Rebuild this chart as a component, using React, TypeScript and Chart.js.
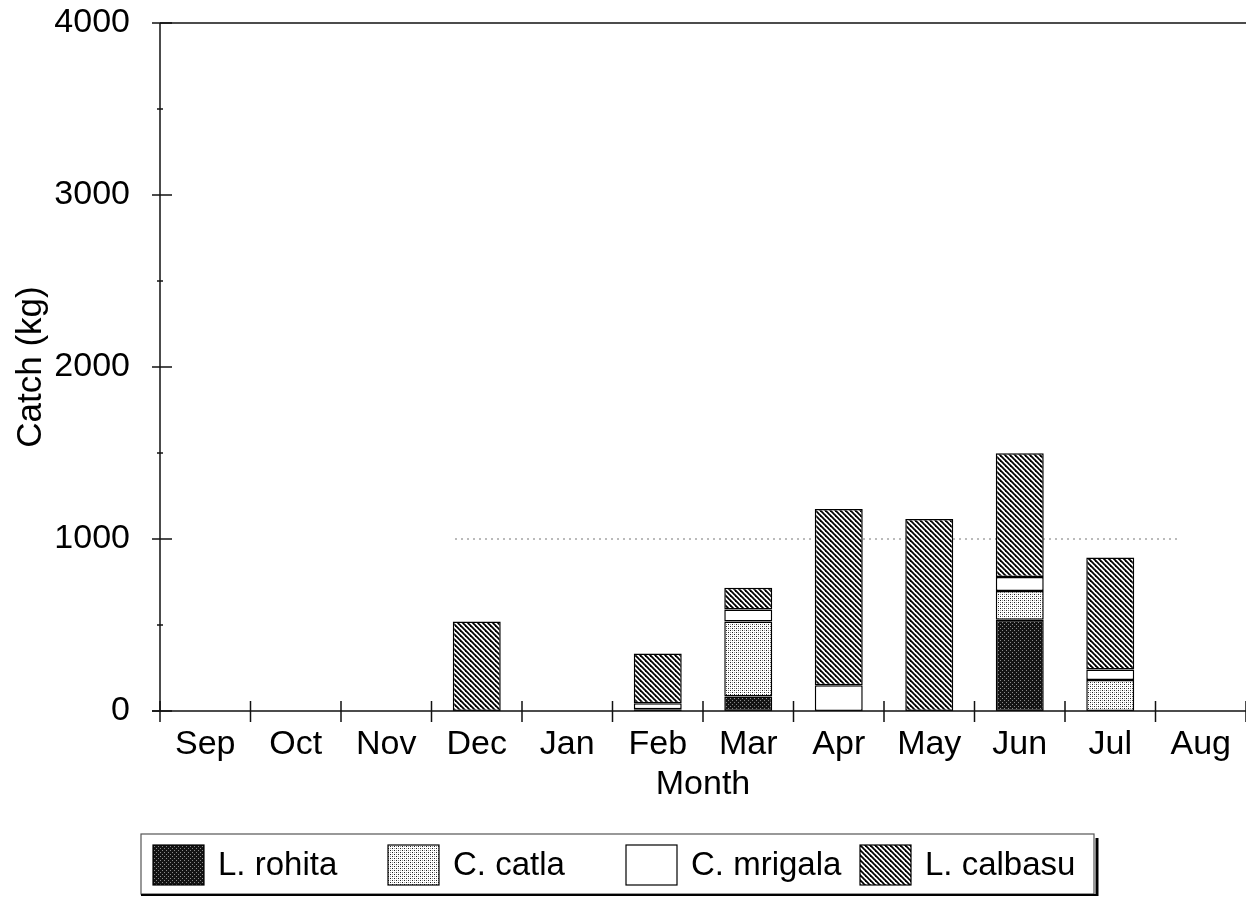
import { useEffect, useRef } from 'react';
import { Chart, registerables } from 'chart.js';

Chart.register(...registerables);

const months = ['Sep', 'Oct', 'Nov', 'Dec', 'Jan', 'Feb', 'Mar', 'Apr', 'May', 'Jun', 'Jul', 'Aug'];
const seriesNames = ['L. rohita', 'C. catla', 'C. mrigala', 'L. calbasu'];
const rohita = [0, 0, 0, 0, 0, 0, 85, 0, 0, 530, 0, 0];
const catla = [0, 0, 0, 0, 0, 10, 435, 0, 0, 167, 180, 0];
const mrigala = [0, 0, 0, 0, 0, 35, 70, 150, 0, 82, 62, 0];
const calbasu = [0, 0, 0, 520, 0, 290, 127, 1025, 1117, 720, 651, 0];
const yMajorTicks = [0, 1000, 2000, 3000, 4000];
const yMinorTicks = [500, 1500, 2500, 3500];

const FONT_FAMILY = '"Liberation Sans", Arial, Helvetica, sans-serif';

function makePattern(kind: string): CanvasPattern | string {
  const c = document.createElement('canvas');
  const g = c.getContext('2d')!;
  if (kind === 'rohita') {
    c.width = 4; c.height = 4;
    g.fillStyle = '#141414';
    g.fillRect(0, 0, 4, 4);
    g.fillStyle = '#8a8a8a';
    g.fillRect(0, 0, 1, 1);
    g.fillRect(2, 2, 1, 1);
  } else if (kind === 'catla') {
    c.width = 4; c.height = 4;
    g.fillStyle = '#ffffff';
    g.fillRect(0, 0, 4, 4);
    g.fillStyle = '#222222';
    g.fillRect(0, 0, 1, 1);
    g.fillRect(2, 2, 1, 1);
    g.fillStyle = '#9a9a9a';
    g.fillRect(2, 0, 1, 1);
    g.fillRect(0, 2, 1, 1);
  } else if (kind === 'calbasu') {
    const s = 5;
    c.width = s; c.height = s;
    g.fillStyle = '#ffffff';
    g.fillRect(0, 0, s, s);
    g.strokeStyle = '#000000';
    g.lineWidth = 1.8;
    for (const k of [-1, 0, 1]) {
      g.beginPath();
      g.moveTo(-s, -s + k * s);
      g.lineTo(2 * s, 2 * s + k * s);
      g.stroke();
    }
  } else {
    return '#ffffff';
  }
  return g.createPattern(c, 'repeat')!;
}

const axesPlugin = {
  id: 'axesPlugin',
  beforeDatasetsDraw(chart: any) {
    const { ctx, chartArea, scales } = chart;
    const y = scales.y;
    ctx.save();
    ctx.strokeStyle = '#777';
    ctx.lineWidth = 1;
    ctx.setLineDash([2, 4]);
    const py = y.getPixelForValue(1000);
    ctx.beginPath();
    ctx.moveTo(chartArea.left + 295, py);
    ctx.lineTo(chartArea.right - 65, py);
    ctx.stroke();
    ctx.restore();
  },
  afterDatasetsDraw(chart: any) {
    const { ctx, chartArea, scales } = chart;
    const { left, right, top, bottom } = chartArea;
    const x = scales.x;
    const y = scales.y;
    const line = (x1: number, y1: number, x2: number, y2: number) => {
      ctx.beginPath();
      ctx.moveTo(x1, y1);
      ctx.lineTo(x2, y2);
      ctx.stroke();
    };
    ctx.save();
    ctx.strokeStyle = '#111';
    ctx.lineWidth = 1.5;
    line(left, top, right, top);
    line(left, top, left, bottom);
    line(left - 8, bottom, right, bottom);
    yMajorTicks.forEach((v) => {
      const p = y.getPixelForValue(v);
      line(left - 8, p, left + 12, p);
    });
    yMinorTicks.forEach((v) => {
      const p = y.getPixelForValue(v);
      line(left - 3, p, left + 3, p);
    });
    const half = (x.getPixelForValue(1) - x.getPixelForValue(0)) / 2;
    for (let i = 0; i <= months.length; i++) {
      const p = x.getPixelForValue(i) - half;
      line(p, bottom - 10, p, bottom + 11);
    }
    ctx.restore();
  },
};

const legendPlugin = {
  id: 'boxLegend',
  afterDraw(chart: any) {
    const { ctx } = chart;
    const swatchX = [153, 388, 626, 860];
    const swatchY = 845;
    const sw = 51;
    const sh = 40;
    ctx.save();
    ctx.strokeStyle = '#555';
    ctx.lineWidth = 1.2;
    ctx.strokeRect(141, 834, 953, 60);
    ctx.strokeStyle = '#000';
    ctx.lineWidth = 3;
    ctx.beginPath();
    ctx.moveTo(1097, 838);
    ctx.lineTo(1097, 896);
    ctx.stroke();
    ctx.lineWidth = 2;
    ctx.beginPath();
    ctx.moveTo(141, 895);
    ctx.lineTo(1097, 895);
    ctx.stroke();
    ctx.font = `33px ${FONT_FAMILY}`;
    ctx.textBaseline = 'middle';
    ctx.textAlign = 'left';
    chart.data.datasets.forEach((ds: any, i: number) => {
      const sx = swatchX[i];
      ctx.fillStyle = ds.backgroundColor;
      ctx.fillRect(sx, swatchY, sw, sh);
      ctx.strokeStyle = '#000';
      ctx.lineWidth = 1.2;
      ctx.strokeRect(sx, swatchY, sw, sh);
      ctx.fillStyle = '#000';
      ctx.fillText(ds.label, sx + 65, swatchY + sh / 2 + 1);
    });
    ctx.restore();
  },
};

export default function App() {
  const canvasRef = useRef<HTMLCanvasElement | null>(null);

  useEffect(() => {
    const canvas = canvasRef.current;
    if (!canvas) return;
    const fills = [makePattern('rohita'), makePattern('catla'), makePattern('mrigala'), makePattern('calbasu')];
    const series = [rohita, catla, mrigala, calbasu];
    const font = { family: FONT_FAMILY, size: 34 };

    const chart = new Chart(canvas, {
      type: 'bar',
      data: {
        labels: months,
        datasets: series.map((vals, i) => ({
          label: seriesNames[i],
          data: vals.map((v) => (v === 0 ? null : v)),
          backgroundColor: fills[i] as any,
          borderColor: '#000',
          borderWidth: 1.5,
          borderSkipped: false,
          barPercentage: 0.53,
          categoryPercentage: 1.0,
        })),
      },
      options: {
        animation: false,
        responsive: false,
        devicePixelRatio: 1,
        layout: { padding: { top: 23, right: 0, bottom: 92, left: 0 } },
        plugins: {
          legend: { display: false },
          tooltip: { enabled: false },
        },
        scales: {
          x: {
            stacked: true,
            offset: true,
            grid: { display: false, drawTicks: false },
            border: { display: false },
            ticks: { font, color: '#000', padding: 13, maxRotation: 0, autoSkip: false },
            title: { display: true, text: 'Month', font, color: '#000', padding: { top: 0, bottom: 0 } },
            afterFit: (s: any) => {
              s.height = 94;
              s.paddingLeft = 0;
              s.paddingRight = 0;
            },
          },
          y: {
            stacked: true,
            min: 0,
            max: 4000,
            grid: { display: false, drawTicks: false },
            border: { display: false },
            ticks: {
              stepSize: 1000,
              font,
              color: '#000',
              padding: 30,
              callback: (v: any) => String(v),
            },
            title: { display: true, text: 'Catch (kg)', font: { family: FONT_FAMILY, size: 35 }, color: '#000', padding: { top: 10, bottom: 0 } },
            afterFit: (s: any) => {
              s.width = 160;
              s.paddingTop = 0;
              s.paddingBottom = 0;
            },
          },
        },
      },
      plugins: [axesPlugin, legendPlugin],
    });
    return () => chart.destroy();
  }, []);

  return (
    <div style={{ position: 'absolute', left: 0, top: 0, width: 1246, height: 897, background: '#fff' }}>
      <canvas ref={canvasRef} width={1246} height={897} style={{ width: 1246, height: 897, display: 'block' }} />
    </div>
  );
}
